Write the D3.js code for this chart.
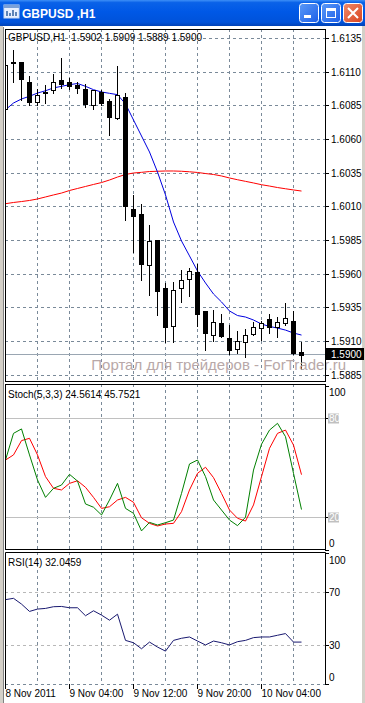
<!DOCTYPE html>
<html>
<head>
<meta charset="utf-8">
<script src="https://cdn.jsdelivr.net/npm/d3@7/dist/d3.min.js"></script>
<style>
  html, body { margin: 0; padding: 0; background: #fff; overflow: hidden; }
  svg { display: block; }
  text { font-family: "Liberation Sans", Arial, sans-serif; font-size: 10px; }
</style>
</head>
<body>
<svg id="chart" width="365" height="703"></svg>
<script>
// ---- data ----
const windowTitle = "GBPUSD ,H1";
const symbol = "GBPUSD,H1";
const watermark = "Портал для трейдеров - ForTrader.ru";

const opens  = [1.6082,1.6116,1.6117,1.6102,1.6088,1.6094,1.6096,1.6104,1.6102,1.6100,1.6097,1.6085,1.6095,1.6088,1.6076,1.6091,1.6008,1.6004,1.5966,1.5985,1.5949,1.5921,1.5949,1.5956,1.5961,1.5932,1.5914,1.5923,1.5912,1.5904,1.5909,1.5915,1.5919,1.5926,1.5920,1.5923,1.5925,1.5902];
const highs  = [1.6130,1.6126,1.6117,1.6107,1.6097,1.6100,1.6108,1.6120,1.6105,1.6102,1.6101,1.6096,1.6096,1.6090,1.6114,1.6094,1.6018,1.6012,1.5996,1.5985,1.5953,1.5954,1.5963,1.5964,1.5967,1.5932,1.5933,1.5930,1.5922,1.5917,1.5919,1.5924,1.5925,1.5930,1.5928,1.5938,1.5932,1.5909];
const lows   = [1.6069,1.6102,1.6089,1.6085,1.6085,1.6087,1.6094,1.6098,1.6097,1.6094,1.6084,1.6082,1.6085,1.6063,1.6075,1.6000,1.5976,1.5955,1.5944,1.5929,1.5909,1.5909,1.5939,1.5943,1.5921,1.5903,1.5910,1.5913,1.5900,1.5901,1.5898,1.5914,1.5911,1.5916,1.5913,1.5922,1.5900,1.5889];
const closes = [1.6115,1.6117,1.6104,1.6087,1.6093,1.6095,1.6102,1.6101,1.6099,1.6098,1.6086,1.6096,1.6087,1.6076,1.6093,1.6010,1.6003,1.5967,1.5984,1.5947,1.5920,1.5948,1.5955,1.5962,1.5930,1.5916,1.5924,1.5913,1.5903,1.5910,1.5914,1.5920,1.5923,1.5920,1.5924,1.5927,1.5901,1.5900];

const maFast = [1.60817,1.60867,1.60897,1.60917,1.60941,1.60958,1.60979,1.60991,1.61003,1.61012,1.60991,1.60966,1.60949,1.60939,1.60929,1.60860,1.60741,1.60622,1.60503,1.60354,1.60184,1.59983,1.59842,1.59731,1.59619,1.59530,1.59448,1.59389,1.59322,1.59288,1.59277,1.59255,1.59225,1.59207,1.59195,1.59180,1.59158,1.59143];
const maSlow = [1.60119,1.60128,1.60135,1.60143,1.60154,1.60169,1.60184,1.60198,1.60217,1.60232,1.60247,1.60262,1.60276,1.60295,1.60317,1.60336,1.60347,1.60352,1.60358,1.60360,1.60362,1.60362,1.60360,1.60356,1.60351,1.60343,1.60336,1.60325,1.60310,1.60297,1.60285,1.60273,1.60260,1.60250,1.60239,1.60230,1.60221,1.60213];

const stochK = [54.7,70.9,73.6,57.8,42.6,32.0,37.5,39.5,46.0,41.9,28.0,26.0,21.3,30.4,40.5,25.3,22.3,11.6,16.8,15.2,16.6,18.2,34.4,52.3,54.7,44.6,30.4,24.3,18.2,14.8,19.9,48.6,64.3,72.9,77.0,68.9,46.6,24.6];
const stochD = [54.7,57.8,66.5,67.9,57.8,44.6,37.5,36.5,40.5,42.1,38.1,32.0,25.3,26.3,30.4,32.0,29.0,19.6,16.2,14.6,15.8,16.2,23.3,36.5,46.6,50.3,44.0,34.4,24.3,19.3,17.6,27.4,44.6,61.8,70.9,72.9,63.8,45.8];
const rsi    = [64.4,65.4,61.0,55.4,57.2,57.7,59.0,59.2,58.2,58.2,52.1,55.9,52.6,48.7,53.3,33.3,31.5,26.9,32.0,28.2,25.1,33.3,34.9,35.9,32.8,29.8,32.8,31.5,29.8,32.3,33.3,35.4,35.9,35.9,37.2,38.5,32.0,32.0];

const stochLast = ["24.5614", "45.7521"];
const rsiLast = "32.0459";

const priceTicks = [1.6135,1.6110,1.6085,1.6060,1.6035,1.6010,1.5985,1.5960,1.5935,1.5910,1.5885];
const stochTicks = [100, 80, 20, 0];
const stochLevels = [80, 20];
const rsiTicks = [100, 70, 30, 0];
const rsiLevels = [70, 30];
const timeLabels = ["8 Nov 2011", "9 Nov 04:00", "9 Nov 12:00", "9 Nov 20:00", "10 Nov 04:00"];
const timeLabelBars = [0, 8, 16, 24, 32];
const gridBars = [4, 8, 12, 16, 20, 24, 28, 32, 36];

// ---- layout ----
const svg = d3.select("#chart");
const defs = svg.append("defs");

const main  = { x: 5, y: 29,  w: 320, h: 352 };
const stoch = { x: 5, y: 384, w: 320, h: 165 };
const rsiP  = { x: 5, y: 552, w: 320, h: 132 };

const x = d3.scaleLinear().domain([0, 40]).range([5, 325]);
const yMain = d3.scaleLinear().domain([1.5885, 1.6135]).range([374.5, 38]);
const yStoch = d3.scaleLinear().domain([0, 100]).range([550, 385.5]);
const yRsi = d3.scaleLinear().domain([0, 100]).range([684, 553]);

const px = v => Math.round(v) + 0.5;
const gridColor = "#7a8a99";

// ---- window frame / title bar ----
svg.append("rect").attr("width", 365).attr("height", 703).attr("fill", "#fff");
svg.append("rect").attr("x", 0).attr("y", 26).attr("width", 3).attr("height", 677).attr("fill", "#d4d0c8");
svg.append("rect").attr("x", 362).attr("y", 26).attr("width", 3).attr("height", 677).attr("fill", "#d4d0c8");
svg.append("line").attr("x1", 3.5).attr("x2", 3.5).attr("y1", 27).attr("y2", 703).attr("stroke", "#808080");

const tb = defs.append("linearGradient").attr("id", "tb").attr("x1", 0).attr("y1", 0).attr("x2", 0).attr("y2", 1);
[["0%", "#3d8ff7"], ["10%", "#0a62e8"], ["45%", "#0058e6"], ["85%", "#0052da"], ["100%", "#0041b5"]]
    .forEach(s => tb.append("stop").attr("offset", s[0]).attr("stop-color", s[1]));
svg.append("rect").attr("x", 0).attr("y", 0).attr("width", 365).attr("height", 26).attr("fill", "url(#tb)");

// small chart icon
const icon = svg.append("g").attr("transform", "translate(4,5)");
icon.append("rect").attr("width", 15).attr("height", 13).attr("fill", "#e8f0ff").attr("stroke", "#c8d8f0");
icon.append("rect").attr("width", 15).attr("height", 3).attr("fill", "#7aa0d8");
icon.append("path").attr("d", "M3,11 L3,6 M6,11 L6,8 M9,11 L9,5 M12,11 L12,7").attr("stroke", "#3060a0").attr("stroke-width", 1.5);

svg.append("text").attr("x", 22).attr("y", 18)
    .style("font-size", "12px").style("font-weight", "bold").attr("fill", "#fff")
    .text(windowTitle);

const btnGrad = defs.append("linearGradient").attr("id", "bb").attr("x1", 0).attr("y1", 0).attr("x2", 1).attr("y2", 1);
btnGrad.append("stop").attr("offset", "0%").attr("stop-color", "#5a9af8");
btnGrad.append("stop").attr("offset", "100%").attr("stop-color", "#1c5ee8");
const btnRed = defs.append("linearGradient").attr("id", "br").attr("x1", 0).attr("y1", 0).attr("x2", 1).attr("y2", 1);
btnRed.append("stop").attr("offset", "0%").attr("stop-color", "#f08a6a");
btnRed.append("stop").attr("offset", "100%").attr("stop-color", "#d8431f");

[[299, "url(#bb)"], [321, "url(#bb)"], [343, "url(#br)"]].forEach(b => {
    svg.append("rect").attr("x", b[0] + 0.5).attr("y", 3.5).attr("width", 19).attr("height", 19)
        .attr("rx", 3).attr("fill", b[1]).attr("stroke", "#fff");
});
svg.append("rect").attr("x", 304).attr("y", 15).attr("width", 7).attr("height", 3).attr("fill", "#fff");
svg.append("rect").attr("x", 326.5).attr("y", 8.5).attr("width", 9).attr("height", 9).attr("fill", "none").attr("stroke", "#fff");
svg.append("rect").attr("x", 326).attr("y", 8).attr("width", 10).attr("height", 3).attr("fill", "#fff");
svg.append("path").attr("d", "M348,8 L358,18 M358,8 L348,18").attr("stroke", "#fff").attr("stroke-width", 2);

// ---- panels ----
function clipFor(id, p) {
    defs.append("clipPath").attr("id", id).append("rect")
        .attr("x", p.x + 1).attr("y", p.y + 1).attr("width", p.w - 1).attr("height", p.h - 1);
    return svg.append("g").attr("clip-path", `url(#${id})`);
}

function vGrid(g, p) {
    g.selectAll(null).data(gridBars).enter().append("line")
        .attr("x1", d => px(x(d))).attr("x2", d => px(x(d)))
        .attr("y1", p.y).attr("y2", p.y + p.h)
        .attr("stroke", gridColor).attr("stroke-dasharray", "3,3");
}

// main chart
const gMain = clipFor("cMain", main);
vGrid(gMain, main);
gMain.selectAll(null).data(priceTicks).enter().append("line")
    .attr("x1", main.x).attr("x2", main.x + main.w)
    .attr("y1", d => px(yMain(d))).attr("y2", d => px(yMain(d)))
    .attr("stroke", gridColor).attr("stroke-dasharray", "3,3");

// bid line
gMain.append("line")
    .attr("x1", main.x).attr("x2", main.x + main.w)
    .attr("y1", px(yMain(closes[closes.length - 1]))).attr("y2", px(yMain(closes[closes.length - 1])))
    .attr("stroke", "#9aa6b2");

// watermark
svg.append("text").attr("x", 346).attr("y", 370).attr("text-anchor", "end")
    .style("font-size", "15px").attr("fill", "#b8a8a8").text(watermark);

const lineMain = arr => d3.line().x((d, i) => x(i) + 0.5).y(d => yMain(d))(arr);
gMain.append("path").attr("d", lineMain(maSlow)).attr("fill", "none").attr("stroke", "#ff0000");
gMain.append("path").attr("d", lineMain(maFast)).attr("fill", "none").attr("stroke", "#0000e0");

const candles = opens.map((o, i) => ({ i, o, h: highs[i], l: lows[i], c: closes[i] }));
const cg = gMain.selectAll(".candle").data(candles).enter().append("g").attr("class", "candle");
cg.append("line")
    .attr("x1", d => px(x(d.i))).attr("x2", d => px(x(d.i)))
    .attr("y1", d => Math.round(yMain(d.h))).attr("y2", d => Math.round(yMain(d.l)) + 1)
    .attr("stroke", "#000");
cg.append("rect")
    .attr("x", d => px(x(d.i)) - 2)
    .attr("y", d => Math.round(yMain(Math.max(d.o, d.c))) + 0.5)
    .attr("width", 4)
    .attr("height", d => Math.max(1, Math.round(Math.abs(yMain(d.o) - yMain(d.c)))))
    .attr("fill", d => d.c >= d.o ? "#fff" : "#000")
    .attr("stroke", "#000");

svg.append("rect").attr("x", main.x + 0.5).attr("y", main.y + 0.5).attr("width", main.w).attr("height", main.h)
    .attr("fill", "none").attr("stroke", "#000");

const fmt = d3.format(".4f");
const last = opens.length - 1;
svg.append("text").attr("x", 8).attr("y", 41).style("white-space", "pre").attr("fill", "#000")
    .text(`${symbol}  ${fmt(opens[last])} ${fmt(highs[last])} ${fmt(lows[last])} ${fmt(closes[last])}`);

// price axis
priceTicks.forEach(p => {
    const yy = px(yMain(p));
    svg.append("line").attr("x1", 325).attr("x2", 329).attr("y1", yy).attr("y2", yy).attr("stroke", "#000");
    svg.append("text").attr("x", 331).attr("y", yy + 3.5).attr("fill", "#000").text(fmt(p));
});
const bidY = px(yMain(closes[last]));
svg.append("rect").attr("x", 326).attr("y", bidY - 6.5).attr("width", 38).attr("height", 12).attr("fill", "#000");
svg.append("text").attr("x", 331).attr("y", bidY + 3.5).attr("fill", "#fff").text(fmt(closes[last]));

// stochastic
const gSto = clipFor("cSto", stoch);
vGrid(gSto, stoch);
gSto.selectAll(null).data(stochLevels).enter().append("line")
    .attr("x1", stoch.x).attr("x2", stoch.x + stoch.w)
    .attr("y1", d => px(yStoch(d))).attr("y2", d => px(yStoch(d)))
    .attr("stroke", "#c0c0c0");
const lineSto = arr => d3.line().x((d, i) => x(i) + 0.5).y(d => yStoch(d))(arr);
gSto.append("path").attr("d", lineSto(stochD)).attr("fill", "none").attr("stroke", "#ff0000");
gSto.append("path").attr("d", lineSto(stochK)).attr("fill", "none").attr("stroke", "#008000");
svg.append("rect").attr("x", stoch.x + 0.5).attr("y", stoch.y + 0.5).attr("width", stoch.w).attr("height", stoch.h)
    .attr("fill", "none").attr("stroke", "#000");
svg.append("text").attr("x", 8).attr("y", 398).attr("fill", "#000")
    .text(`Stoch(5,3,3) ${stochLast[0]} ${stochLast[1]}`);

stochTicks.forEach(v => {
    const yy = px(yStoch(v));
    const cy = Math.min(Math.max(yy, stoch.y + 8), stoch.y + stoch.h - 6);
    svg.append("line").attr("x1", 325).attr("x2", 329).attr("y1", yy).attr("y2", yy).attr("stroke", "#000");
    if (stochLevels.includes(v)) {
        svg.append("rect").attr("x", 328).attr("y", cy - 5).attr("width", 11).attr("height", 10).attr("fill", "#c0c0c0");
        svg.append("text").attr("x", 329).attr("y", cy + 3.5).attr("fill", "#fff").text(v);
    } else {
        svg.append("text").attr("x", 329).attr("y", cy + 3.5).attr("fill", "#000").text(v);
    }
});

// RSI
const gRsi = clipFor("cRsi", rsiP);
vGrid(gRsi, rsiP);
gRsi.selectAll(null).data(rsiLevels).enter().append("line")
    .attr("x1", rsiP.x).attr("x2", rsiP.x + rsiP.w)
    .attr("y1", d => px(yRsi(d))).attr("y2", d => px(yRsi(d)))
    .attr("stroke", "#b8b8b8").attr("stroke-dasharray", "3,3");
gRsi.append("path")
    .attr("d", d3.line().x((d, i) => x(i) + 0.5).y(d => yRsi(d))(rsi))
    .attr("fill", "none").attr("stroke", "#191970");
// left / top / right borders solid, bottom dashed
svg.append("path")
    .attr("d", `M${rsiP.x + 0.5},${rsiP.y + rsiP.h} V${rsiP.y + 0.5} H${rsiP.x + rsiP.w + 0.5} V${rsiP.y + rsiP.h}`)
    .attr("fill", "none").attr("stroke", "#000");
svg.append("line").attr("x1", rsiP.x).attr("x2", rsiP.x + rsiP.w)
    .attr("y1", rsiP.y + rsiP.h + 0.5).attr("y2", rsiP.y + rsiP.h + 0.5)
    .attr("stroke", gridColor).attr("stroke-dasharray", "3,3");
svg.append("text").attr("x", 8).attr("y", 566).attr("fill", "#000").text(`RSI(14) ${rsiLast}`);

rsiTicks.forEach(v => {
    const yy = px(yRsi(v));
    const cy = Math.min(Math.max(yy, rsiP.y + 8), rsiP.y + rsiP.h - 7);
    svg.append("line").attr("x1", 325).attr("x2", 329).attr("y1", yy).attr("y2", yy).attr("stroke", "#000");
    svg.append("text").attr("x", 329).attr("y", cy + 3.5).attr("fill", "#000").text(v);
});

// time axis
timeLabelBars.forEach((b, k) => {
    const xx = px(x(b));
    svg.append("line").attr("x1", xx).attr("x2", xx).attr("y1", 684).attr("y2", 689).attr("stroke", "#000");
    svg.append("text").attr("x", xx).attr("y", 697).attr("fill", "#000").text(timeLabels[k]);
});
</script>
</body>
</html>
